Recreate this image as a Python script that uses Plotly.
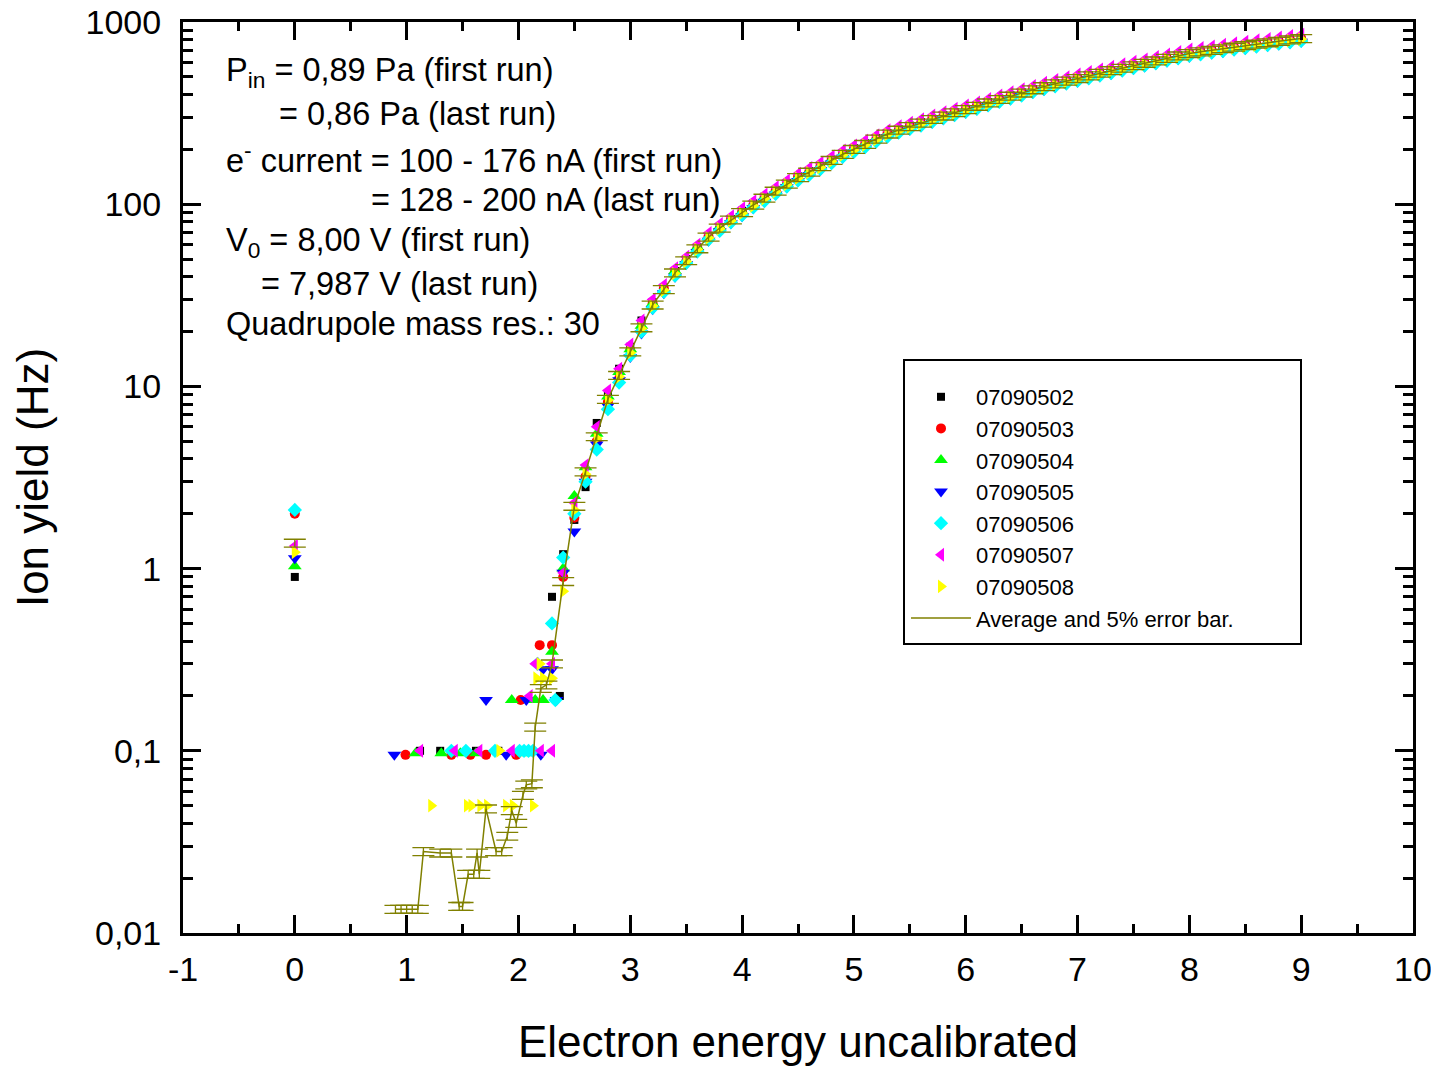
import plotly.graph_objects as go

# ---------------- data ----------------
x_main = [2.3, 2.4, 2.5, 2.6, 2.7, 2.8, 2.9, 3.0, 3.1, 3.2,
          3.3, 3.4, 3.5, 3.6, 3.7, 3.8, 3.9, 4.0, 4.1, 4.2,
          4.3, 4.4, 4.5, 4.6, 4.7, 4.8, 4.9, 5.0, 5.1, 5.2,
          5.3, 5.4, 5.5, 5.6, 5.7, 5.8, 5.9, 6.0, 6.1, 6.2,
          6.3, 6.4, 6.5, 6.6, 6.7, 6.8, 6.9, 7.0, 7.1, 7.2,
          7.3, 7.4, 7.5, 7.6, 7.7, 7.8, 7.9, 8.0, 8.1, 8.2,
          8.3, 8.4, 8.5, 8.6, 8.7, 8.8, 8.9, 9.0]

# low-energy part of each run (x, y)
low_x_502 = [0, 1.12, 1.30, 1.62, 1.82, 2.37]
low_y_502 = [0.9, 0.1, 0.1, 0.1, 0.1, 0.2]
low_x_503 = [0, 0.99, 1.40, 1.57, 1.71, 1.98, 2.02, 2.19]
low_y_503 = [2.0, 0.095, 0.095, 0.095, 0.095, 0.095, 0.19, 0.38]
low_x_504 = [0, 1.08, 1.31, 1.48, 1.62, 1.94, 2.06, 2.15, 2.22]
low_y_504 = [1.03, 0.097, 0.097, 0.097, 0.097, 0.19, 0.097, 0.19, 0.19]
low_x_505 = [0, 0.89, 1.71, 1.89, 2.07, 2.2, 2.22, 2.34]
low_y_505 = [1.14, 0.095, 0.19, 0.095, 0.19, 0.095, 0.28, 0.19]
low_x_506 = [0, 1.40, 1.53, 1.79, 2.01, 2.05, 2.09, 2.13, 2.17, 2.33]
low_y_506 = [2.1, 0.1, 0.1, 0.1, 0.1, 0.1, 0.1, 0.1, 0.3, 0.19]
low_x_507 = [0, 1.12, 1.43, 1.65, 1.94, 2.1, 2.15, 2.2, 2.3]
low_y_507 = [1.33, 0.1, 0.1, 0.1, 0.1, 0.2, 0.3, 0.1, 0.1]
low_x_508 = [0, 1.22, 1.54, 1.58, 1.66, 1.72, 1.83, 1.89, 1.95, 2.13, 2.16, 2.19, 2.22]
low_y_508 = [1.23, 0.05, 0.05, 0.05, 0.05, 0.05, 0.1, 0.05, 0.05, 0.05, 0.25, 0.3, 0.25]

# main part of each run, on x_main
y_502 = [0.70, 1.2, 1.85, 2.8, 6.3, 9.0, 12.5, 16.5, 23, 29,
         35, 43, 50, 58, 67, 75, 83, 92, 101, 110,
         120, 131, 142, 152, 163, 176, 190, 203, 216, 231,
         246, 258, 270, 282, 295, 308, 321, 334, 348, 364,
         380, 396, 412, 429, 446, 462, 478, 494, 511, 528,
         545, 562, 580, 598, 616, 636, 656, 676, 690, 704,
         718, 732, 746, 760, 774, 788, 802, 816]
y_503 = [0.38, 0.90, 1.9, 3.2, 5.0, 8.2, 11.0, 15.8, 20.5, 28.5,
         34.5, 42.5, 48.5, 57.5, 66.5, 73.5, 82.5, 90.5, 98.5, 108,
         119, 128, 141, 150, 161, 175, 187, 201, 213, 227,
         244, 254, 268, 278, 293, 304, 319, 330, 346, 359,
         377, 391, 409, 424, 443, 457, 475, 489, 508, 523,
         542, 557, 577, 593, 613, 631, 653, 671, 687, 699,
         715, 727, 743, 755, 771, 783, 799, 811]
y_504 = [0.35, 1.0, 2.5, 3.6, 5.5, 8.8, 12, 16, 21.5, 28.5,
         34, 43, 49, 58, 66, 75, 82, 91, 99, 109,
         118, 130, 140, 151, 161, 175, 188, 201, 213, 229,
         243, 256, 267, 280, 292, 306, 318, 332, 345, 361,
         376, 393, 408, 426, 442, 459, 474, 491, 507, 525,
         541, 559, 576, 595, 612, 633, 652, 673, 686, 701,
         714, 729, 742, 757, 770, 785, 798, 813]
y_505 = [0.28, 0.95, 1.6, 3.0, 4.8, 7.8, 10.8, 14.5, 19.5, 26.5,
         32.5, 40, 47, 54.5, 63, 71, 78.5, 86, 95, 103,
         113, 124, 134, 144, 154, 167, 180, 192, 204, 219,
         233, 245, 256, 268, 280, 293, 305, 318, 331, 346,
         361, 376, 392, 408, 424, 440, 455, 470, 487, 503,
         519, 536, 553, 570, 588, 607, 626, 645, 659, 672,
         685, 699, 712, 726, 739, 753, 766, 780]
y_506 = [0.5, 1.15, 2.0, 3.0, 4.5, 7.5, 10.5, 14.8, 20, 27,
         33, 40.5, 47.5, 55, 64, 71.5, 79.5, 87, 96, 104,
         114, 125, 135, 145, 156, 168, 182, 194, 206, 221,
         235, 247, 259, 270, 283, 296, 308, 321, 334, 349,
         364, 380, 395, 412, 428, 444, 459, 475, 491, 508,
         524, 541, 558, 576, 593, 613, 632, 652, 665, 679,
         692, 706, 719, 733, 747, 760, 774, 787]
y_507 = [0.30, 0.95, 2.3, 3.7, 6.0, 9.5, 12.5, 17, 23, 30,
         36, 44.5, 51.5, 60, 69.5, 78, 86, 95, 104, 113,
         124, 135, 147, 158, 169, 183, 197, 210, 224, 239,
         255, 268, 280, 293, 307, 320, 334, 348, 362, 378,
         395, 412, 428, 446, 464, 481, 498, 515, 532, 550,
         568, 586, 605, 624, 643, 664, 685, 706, 720, 735,
         750, 764, 779, 794, 808, 823, 838, 853]
y_508 = [0.25, 0.75, 2.1, 3.3, 5.2, 8.4, 11.3, 15.3, 20.8, 27.6,
         33.7, 41.6, 48.5, 56.4, 65.3, 73.3, 81.2, 89.1, 98, 107,
         117, 128, 139, 149, 159, 172, 186, 198, 211, 226,
         241, 252, 264, 276, 289, 302, 315, 328, 342, 356,
         372, 388, 404, 421, 438, 453, 469, 485, 502, 519,
         536, 552, 570, 588, 606, 626, 645, 665, 679, 693,
         707, 721, 735, 748, 762, 776, 790, 804]

# average curve
avg_low_x = [0.0, None, 0.90, 0.95, 1.00, 1.05, 1.10, 1.15, 1.30, 1.40, 1.47, 1.50,
             1.55, 1.60, 1.63, 1.65, 1.71, 1.80, 1.85, 1.90, 1.94, 1.98, 2.04,
             2.07, 2.12, 2.15, 2.20, 2.25]
avg_low_y = [1.38, None, 0.0135, 0.0135, 0.0135, 0.0135, 0.0135, 0.028, 0.0275, 0.0275,
             0.014, 0.014, 0.021, 0.021, 0.0275, 0.021, 0.048, 0.028, 0.028, 0.034,
             0.047, 0.040, 0.057, 0.065, 0.066, 0.135, 0.22, 0.23]
avg_main = [0.30, 0.85, 2.2, 3.4, 5.3, 8.5, 11.5, 15.5, 21, 28,
            34, 42, 49, 57, 66, 74, 82, 90, 99, 108,
            118, 129, 140, 150, 161, 174, 188, 200, 213, 228,
            243, 255, 267, 279, 292, 305, 318, 331, 345, 360,
            376, 392, 408, 425, 442, 458, 474, 490, 507, 524,
            541, 558, 576, 594, 612, 632, 652, 672, 686, 700,
            714, 728, 742, 756, 770, 784, 798, 812]
err_fraction = 0.05

names = ["07090502", "07090503", "07090504", "07090505", "07090506", "07090507", "07090508"]
low_xs = [low_x_502, low_x_503, low_x_504, low_x_505, low_x_506, low_x_507, low_x_508]
low_ys = [low_y_502, low_y_503, low_y_504, low_y_505, low_y_506, low_y_507, low_y_508]
main_ys = [y_502, y_503, y_504, y_505, y_506, y_507, y_508]

y_tickvals = [0.01, 0.1, 1, 10, 100, 1000]
y_ticktext = ["0,01", "0,1", "1", "10", "100", "1000"]
x_tickvals = [-1, 0, 1, 2, 3, 4, 5, 6, 7, 8, 9, 10]
x_ticktext = ["-1", "0", "1", "2", "3", "4", "5", "6", "7", "8", "9", "10"]

# ---------------- styles ----------------
colors = ["#000000", "#ff0000", "#00ff00", "#0000ff", "#00ffff", "#ff00ff", "#ffff00"]
symbols = ["square", "circle", "triangle-up", "triangle-down", "diamond", "triangle-left", "triangle-right"]
sizes = [8, 10, 12, 12, 11, 12, 12]
OLIVE = "#808000"
FONT = "Liberation Sans, Arial, sans-serif"

fig = go.Figure()
for name, lx, ly, my, c, s, sz in zip(names, low_xs, low_ys, main_ys, colors, symbols, sizes):
    fig.add_trace(go.Scatter(
        x=lx + x_main, y=ly + my, mode="markers", name=name,
        marker=dict(color=c, symbol=s, size=sz, line=dict(width=0)),
    ))

avg_x = avg_low_x + x_main
avg_y = avg_low_y + avg_main
avg_err = [None if v is None else v * err_fraction for v in avg_y]
fig.add_trace(go.Scatter(
    x=avg_x, y=avg_y, mode="lines", name="Average and 5% error bar.",
    line=dict(color=OLIVE, width=1.5), connectgaps=False,
    error_y=dict(type="data", array=avg_err, color=OLIVE, thickness=1.3, width=11, visible=True),
))

# ---------------- layout ----------------
# the page body adds an 8px offset, so the figure is 8px smaller and margins shifted
OFF = 8
W, H = 1439 - OFF, 1069 - OFF
L, R, T, B = 183 - OFF, 26, 22 - OFF, 136
PW, PH = W - L - R, H - T - B


def px_x(px):
    return (px - OFF - L) / PW


def px_y(py):
    return (H - B - (py - OFF)) / PH


axis_common = dict(
    showline=True, linecolor="black", linewidth=3, mirror="allticks",
    ticks="inside", tickcolor="black", tickwidth=3, ticklen=18,
    showgrid=False, zeroline=False, ticklabeloverflow="allow",
    tickfont=dict(size=34, color="black", family=FONT),
)

fig.update_layout(
    width=W, height=H,
    margin=dict(l=L, r=R, t=T, b=B, autoexpand=False),
    paper_bgcolor="white", plot_bgcolor="white",
    font=dict(family=FONT, color="black"),
    xaxis=dict(
        range=[-1, 10], tickmode="array", tickvals=x_tickvals, ticktext=x_ticktext,
        ticklabelstandoff=4,
        minor=dict(ticks="inside", ticklen=9, tickwidth=3, tickcolor="black", dtick=0.5, tick0=-1, showgrid=False),
        title=dict(text="Electron energy uncalibrated", font=dict(size=44, family=FONT, color="black"), standoff=40),
        **axis_common,
    ),
    yaxis=dict(
        type="log", range=[-2, 3], tickmode="array", tickvals=y_tickvals, ticktext=y_ticktext,
        ticklabelstandoff=12,
        minor=dict(ticks="inside", ticklen=10, tickwidth=2.5, tickcolor="black", dtick="D1", showgrid=False),
        title=dict(text="Ion yield (Hz)", font=dict(size=44, family=FONT, color="black"), standoff=32),
        **axis_common,
    ),
    legend=dict(
        x=px_x(906), y=px_y(376), xanchor="left", yanchor="top",
        bgcolor="rgba(0,0,0,0)", borderwidth=0,
        font=dict(size=22, family=FONT, color="black"),
        itemwidth=60, tracegroupgap=0,
    ),
    showlegend=True,
)

# legend frame
fig.add_shape(type="rect", xref="paper", yref="paper",
              x0=px_x(904), x1=px_x(1301), y0=px_y(644), y1=px_y(360),
              line=dict(color="black", width=2), fillcolor="rgba(0,0,0,0)")

# info text block
info_lines = [
    ("P<sub>in</sub> = 0,89 Pa (first run)", 224, 72),
    ("= 0,86 Pa (last run)", 277, 114),
    ("e<sup>-</sup> current = 100 - 176 nA (first run)", 224, 158),
    ("= 128 - 200 nA (last run)", 369, 200),
    ("V<sub>0</sub> = 8,00 V (first run)", 224, 242),
    ("= 7,987 V (last run)", 259, 284),
    ("Quadrupole mass res.: 30", 224, 324),
]
for txt, px, py in info_lines:
    fig.add_annotation(text=txt, xref="paper", yref="paper", x=px_x(px), y=px_y(py),
                       xanchor="left", yanchor="middle", showarrow=False,
                       font=dict(size=32.5, family=FONT, color="black"))

fig.write_html("out.html")
